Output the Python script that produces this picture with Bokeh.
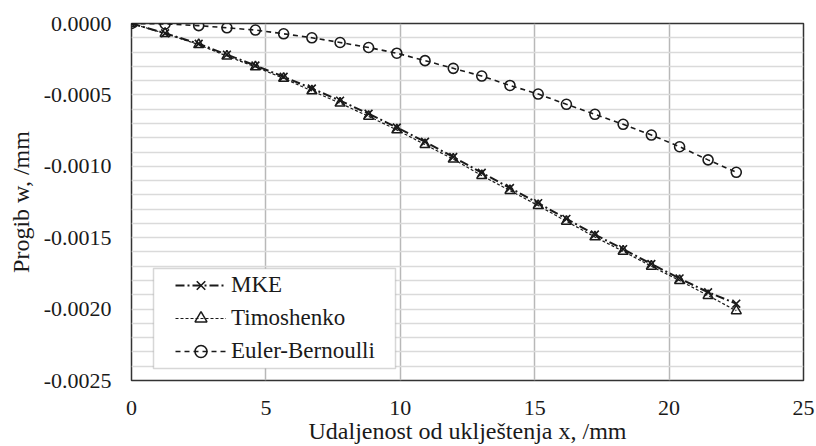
from bokeh.plotting import figure
from bokeh.embed import file_html
from bokeh.resources import INLINE
from bokeh.models import (Range1d, FixedTicker, SingleIntervalTicker, NumeralTickFormatter,
                          Legend, LegendItem, BoxAnnotation, Node)

# ---------------- data ----------------
x_pos = [0, 1.25, 2.5, 3.55, 4.61, 5.66, 6.71, 7.76, 8.82, 9.87, 10.92,
         11.97, 13.03, 14.08, 15.13, 16.18, 17.24, 18.29, 19.34, 20.39, 21.45, 22.5]

w_mke = [0, -0.000068, -0.000142, -0.000218, -0.000294, -0.000373, -0.000455,
         -0.000540, -0.000632, -0.000728, -0.000828, -0.000935, -0.001045,
         -0.001152, -0.001258, -0.001368, -0.001478, -0.001580, -0.001684,
         -0.001785, -0.001882, -0.001962]

w_timoshenko = [0, -0.000070, -0.000148, -0.000228, -0.000304, -0.000384, -0.000472,
                -0.000558, -0.000650, -0.000745, -0.000848, -0.000950, -0.001065,
                -0.001170, -0.001275, -0.001385, -0.001495, -0.001595, -0.001700,
                -0.001800, -0.001905, -0.002012]

w_euler = [0, -0.000003, -0.000015, -0.000030, -0.000046, -0.000072, -0.000100,
           -0.000133, -0.000168, -0.000208, -0.000260, -0.000314, -0.000368,
           -0.000434, -0.000494, -0.000566, -0.000636, -0.000706, -0.000781,
           -0.000863, -0.000955, -0.001042]

series_names = ["MKE", "Timoshenko", "Euler-Bernoulli"]
x_ticks = [0, 5, 10, 15, 20, 25]
y_ticks = [0, -0.0005, -0.0010, -0.0015, -0.0020, -0.0025]
x_title = "Udaljenost od uklještenja x, /mm"
y_title = "Progib w, /mm"

FONT = "Liberation Serif"
INK = "#1a1a1a"

p = figure(width=816, height=446, output_backend="svg", toolbar_location=None,
           x_range=Range1d(0, 25), y_range=Range1d(-0.0025, 0),
           min_border_left=131, min_border_right=13, min_border_top=23,
           min_border_bottom=66)

p.outline_line_color = "#333333"
p.outline_line_width = 1.5
p.background_fill_color = "white"

# grids
p.xgrid.ticker = FixedTicker(ticks=x_ticks)
p.xgrid.grid_line_color = "#b8b8b8"
p.xgrid.grid_line_width = 1.5
p.ygrid.ticker = SingleIntervalTicker(interval=0.0001, num_minor_ticks=0)
p.ygrid.grid_line_color = "#dadada"
p.ygrid.grid_line_width = 1.5

# axes
for ax in (p.xaxis[0], p.yaxis[0]):
    ax.axis_line_color = None
    ax.major_tick_line_color = None
    ax.minor_tick_line_color = None
    ax.major_tick_in = 0
    ax.major_tick_out = 0
    ax.major_label_text_font = FONT
    ax.major_label_text_font_size = "22px"
    ax.major_label_text_color = INK
    ax.axis_label_text_font = FONT
    ax.axis_label_text_font_size = "24px"
    ax.axis_label_text_font_style = "normal"
    ax.axis_label_text_color = INK

p.xaxis.ticker = FixedTicker(ticks=x_ticks)
p.yaxis.ticker = FixedTicker(ticks=y_ticks)
p.yaxis.formatter = NumeralTickFormatter(format="0.0000")
p.xaxis.major_label_standoff = 20
p.yaxis.major_label_standoff = 20
p.xaxis.axis_label = x_title
p.yaxis.axis_label = y_title
p.xaxis.axis_label_standoff = 0
p.yaxis.axis_label_standoff = 7

# series
l1 = p.line(x_pos, w_mke, line_color=INK, line_width=2.0, line_dash="9 3 2 3")
m1 = p.scatter(x_pos, w_mke, marker="x", size=11, line_color=INK, line_width=1.6)

l2 = p.line(x_pos, w_timoshenko, line_color=INK, line_width=1.2, line_dash="3 2")
m2 = p.scatter(x_pos, w_timoshenko, marker="triangle", size=10, line_color=INK,
               fill_color=None, line_width=1.5)

l3 = p.line(x_pos, w_euler, line_color=INK, line_width=1.6, line_dash="5 4")
m3 = p.scatter(x_pos, w_euler, marker="circle", size=10, line_color=INK,
               fill_color=None, line_width=1.6)

# legend frame
box = BoxAnnotation(left=Node(target="frame", symbol="left", offset=22),
                    right=Node(target="frame", symbol="left", offset=264),
                    top=Node(target="frame", symbol="bottom", offset=-112),
                    bottom=Node(target="frame", symbol="bottom", offset=-12),
                    fill_color="white", fill_alpha=1.0,
                    line_color="#7a7a7a", line_width=1.5)
p.add_layout(box)

legend = Legend(items=[LegendItem(label=series_names[0], renderers=[l1, m1]),
                       LegendItem(label=series_names[1], renderers=[l2, m2]),
                       LegendItem(label=series_names[2], renderers=[l3, m3])],
                location=(44, 14))
legend.padding = 0
legend.margin = 0
legend.spacing = 3
legend.glyph_width = 51
legend.glyph_height = 30
legend.label_standoff = 5
legend.label_text_font = FONT
legend.label_text_font_size = "23px"
legend.label_text_color = INK
legend.border_line_alpha = 0
legend.background_fill_alpha = 0
p.add_layout(legend)

open("out.html", "w").write(file_html(p, INLINE))
